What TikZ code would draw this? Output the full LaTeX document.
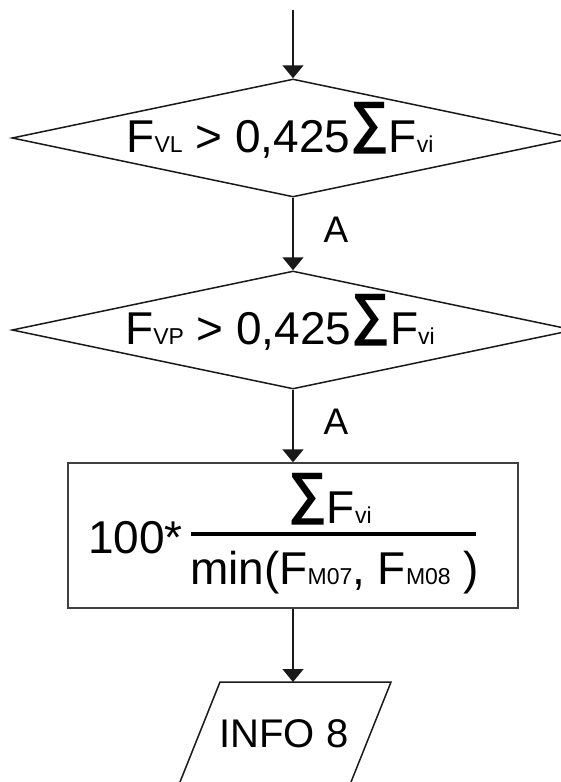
\documentclass[tikz,border=0pt]{standalone}
\usepackage{fontspec}
\usepackage{graphicx}
\setmainfont{Liberation Sans}
\usetikzlibrary{arrows.meta,shapes.geometric}

% text sizes used in the flowchart
\newcommand{\mainsz}{\fontsize{46}{50}\selectfont}
\newcommand{\labsz}{\fontsize{37}{42}\selectfont}
\newcommand{\subsz}{\fontsize{23}{25}\selectfont}
\newcommand{\sub}[1]{{\subsz #1}}
% large summation sign resting on the baseline
\newcommand{\sumsym}{\raisebox{11pt}{\scalebox{0.95}[1]{\fontsize{57}{57}\selectfont\bfseries ∑}}}

\tikzset{
  line/.style={line width=1.5pt, draw=black!90},
  arr/.style={line, -{Triangle[width=21pt,length=13pt]}},
  decision/.style={diamond, line, inner sep=0pt, minimum width=562pt, minimum height=118pt},
  process/.style={rectangle, line, line width=1.3pt, draw=black!75, inner sep=0pt, minimum width=450pt, minimum height=145pt},
  txt/.style={inner sep=0pt, anchor=base, font=\mainsz},
  lab/.style={inner sep=0pt, anchor=base, font=\labsz},
}

\begin{document}
\begin{tikzpicture}[x=1pt, y=-1pt]
  \useasboundingbox (0,0) rectangle (561,782);
  \clip (0,0) rectangle (561,782);

  % entry point
  \coordinate (start) at (293,10);

  % first decision
  \node[decision] (d1) at (293,138) {};
  \node[txt] (t1) at (280,152) {F\sub{VL} > 0,425\sumsym F\sub{vi}};
  \node[lab] (a1) at (336,242) {A};

  % second decision
  \node[decision] (d2) at (293,330) {};
  \node[txt] (t2) at (280,344) {F\sub{VP} > 0,425\sumsym F\sub{vi}};
  \node[lab] (a2) at (336,434) {A};

  % computation box
  \node[process] (calc) at (293,535.5) {};
  \node[txt, anchor=base west] (k) at (88,553) {100*};
  \node[txt] (num) at (330,523) {\sumsym F\sub{vi}};
  \node[fill=black, inner sep=0pt, minimum width=285pt, minimum height=4pt] (bar) at (333,534) {};
  \node[txt] (den) at (334.5,584) {min(F\sub{M07}, F\sub{M08} )};

  % output parallelogram
  \coordinate (p1) at (220,682);
  \coordinate (p2) at (391,682);
  \coordinate (p3) at (347.8,790);
  \coordinate (p4) at (176.8,790);
  \draw[line] (p1) -- (p2) -- (p3) -- (p4) -- cycle;
  \node[inner sep=0pt, font=\fontsize{40}{44}\selectfont] (out) at (284,734) {INFO 8};

  % connectors
  \draw[arr] (start) -- (d1.north);
  \draw[arr] (d1.south) -- (d2.north);
  \draw[arr] (d2.south) -- (calc.north);
  \draw[arr] (calc.south) -- (calc.south |- p1);
\end{tikzpicture}
\end{document}
